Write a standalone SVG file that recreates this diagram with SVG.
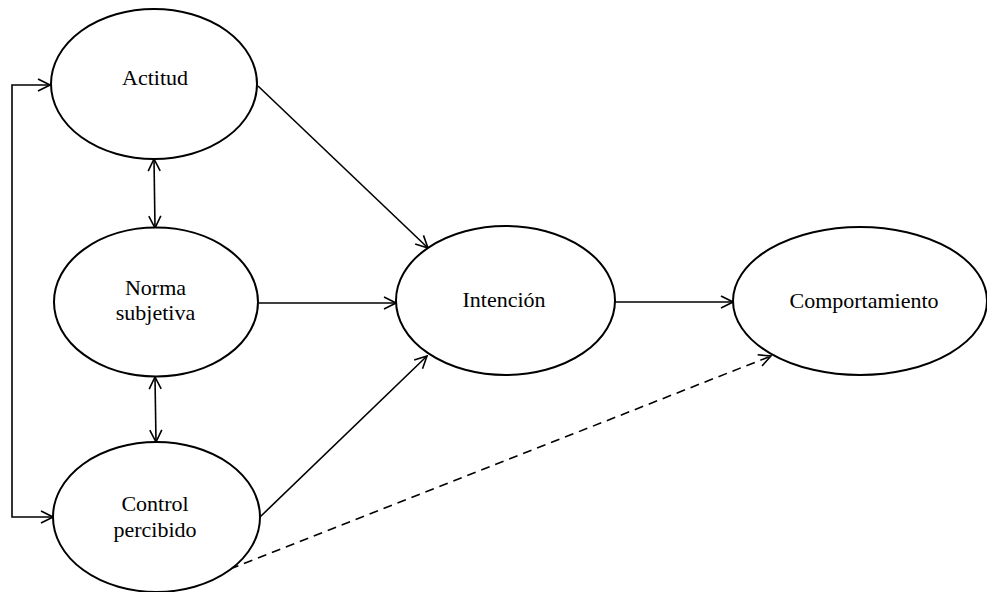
<svg xmlns="http://www.w3.org/2000/svg" width="987" height="592" viewBox="0 0 987 592">
<style>
.node{fill:#fff;stroke:#000;stroke-width:2}
.lbl{font-family:"Liberation Serif","Times New Roman",serif;font-size:22px;fill:#000;text-anchor:middle}
.con{fill:none;stroke:#000;stroke-width:1.6}
.dash{stroke-dasharray:9,6}
</style>
<defs>
<marker id="ah" viewBox="0 0 14 14" refX="13" refY="7" markerWidth="14" markerHeight="14" markerUnits="userSpaceOnUse" orient="auto-start-reverse">
<path d="M1,1 L13,7 L1,13" fill="none" stroke="#000" stroke-width="1.6"/>
</marker>
</defs>
<rect width="987" height="592" fill="#fff"/>
<g id="connectors">
<path class="con" d="M50,85 H12 V517 H53" marker-start="url(#ah)" marker-end="url(#ah)"/>
<path class="con" d="M154,159 L155,228" marker-start="url(#ah)" marker-end="url(#ah)"/>
<path class="con" d="M155,377 L156,442" marker-start="url(#ah)" marker-end="url(#ah)"/>
<path class="con" d="M258,86 L428,248" marker-end="url(#ah)"/>
<path class="con" d="M259,303 L396,303" marker-end="url(#ah)"/>
<path class="con" d="M260,517 L427,356" marker-end="url(#ah)"/>
<path class="con" d="M615,302 L733,302" marker-end="url(#ah)"/>
<path class="con dash" d="M230,569 L771,356" marker-end="url(#ah)"/>
</g>
<g id="actitud">
<ellipse class="node" cx="154" cy="84" rx="103" ry="75"/>
<text class="lbl" x="155" y="85">Actitud</text>
</g>
<g id="norma">
<ellipse class="node" cx="156" cy="302" rx="102" ry="74.5"/>
<text class="lbl" x="155.5" y="295">Norma</text>
<text class="lbl" x="155.5" y="320">subjetiva</text>
</g>
<g id="control">
<ellipse class="node" cx="156.5" cy="517" rx="103.5" ry="75"/>
<text class="lbl" x="155" y="511">Control</text>
<text class="lbl" x="155" y="537">percibido</text>
</g>
<g id="intencion">
<ellipse class="node" cx="505.5" cy="300.5" rx="109.5" ry="74.5"/>
<text class="lbl" x="504" y="307">Intención</text>
</g>
<g id="comportamiento">
<ellipse class="node" cx="860" cy="301" rx="127" ry="74"/>
<text class="lbl" x="864" y="308">Comportamiento</text>
</g>
</svg>
